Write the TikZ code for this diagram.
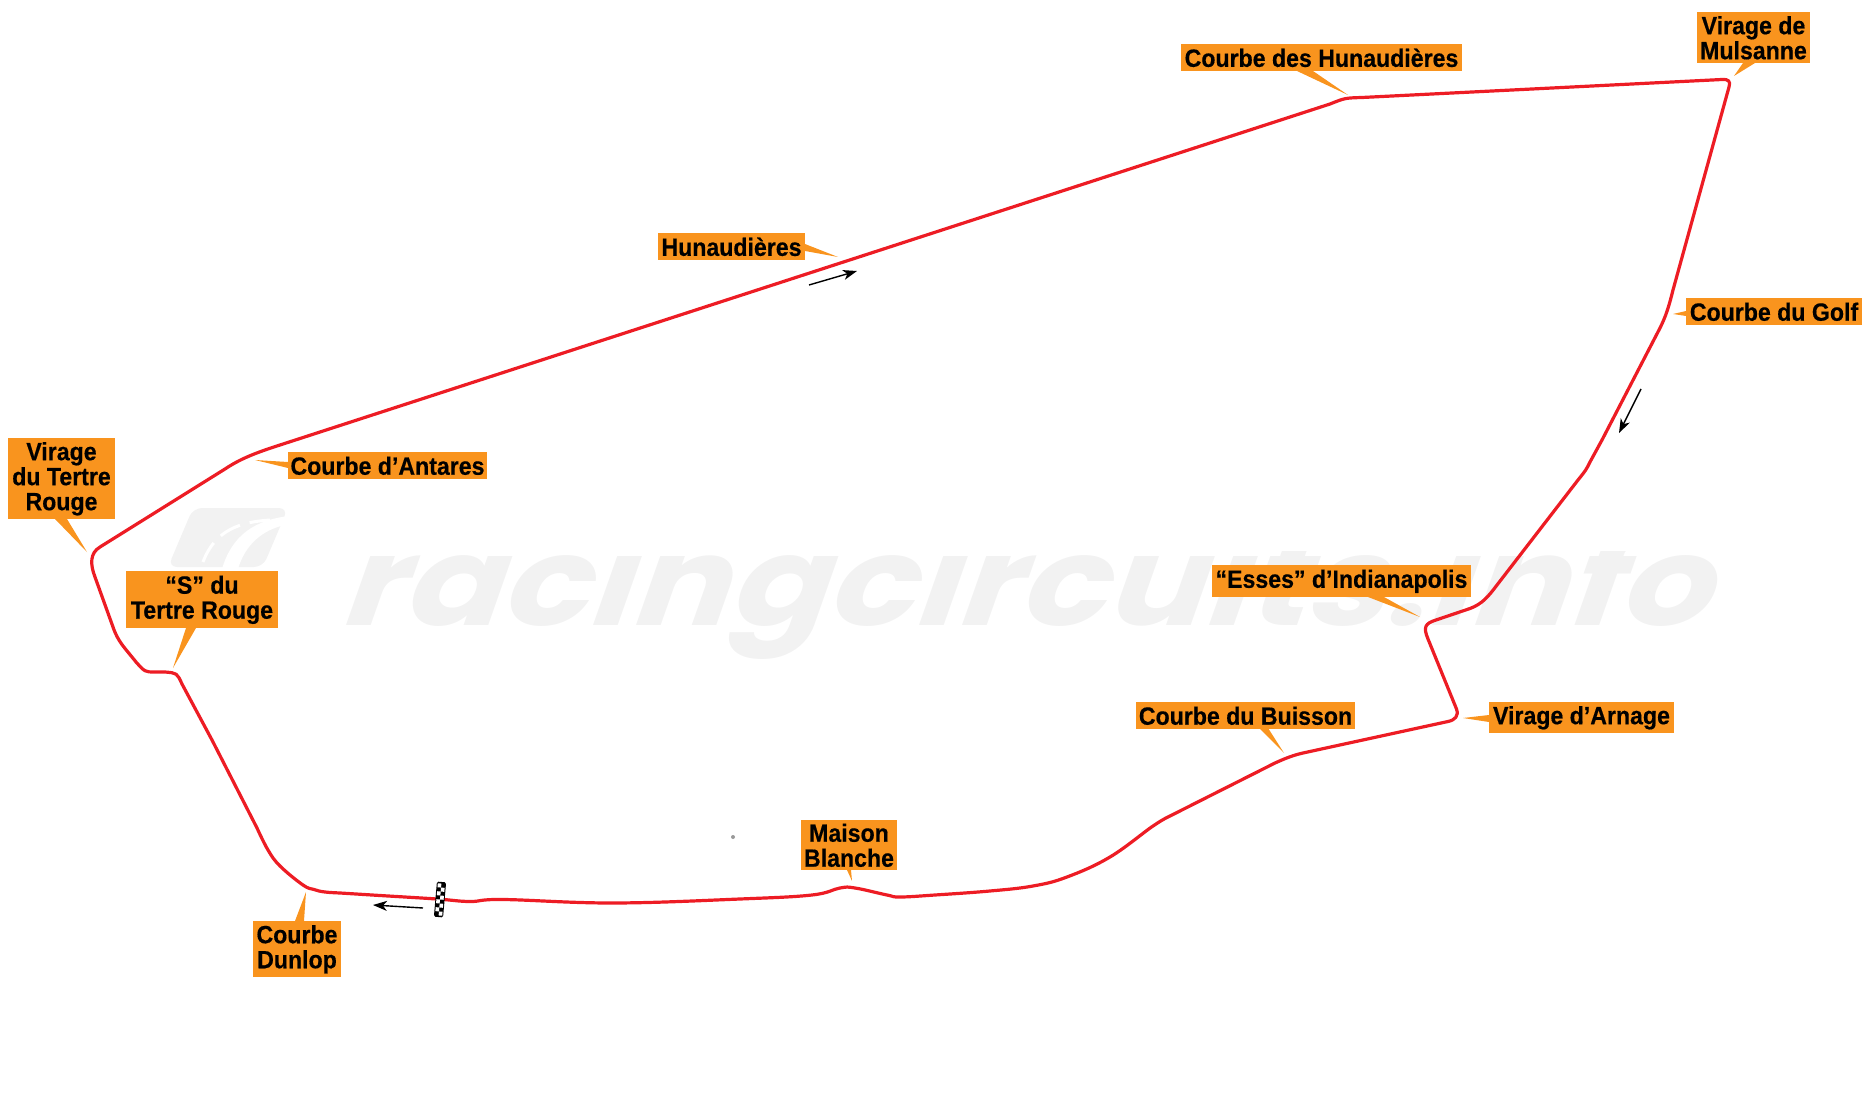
\documentclass[tikz,border=0pt]{standalone}
\usepackage{fontspec}
\setmainfont{Liberation Sans}[FakeStretch=0.925,FakeBold=0.4]
\newfontfamily\wmfont{Poppins}[FakeSlant=0.3]
\usetikzlibrary{arrows.meta}
\definecolor{labelorange}{HTML}{F9941E}
\definecolor{trackred}{HTML}{ED1C24}
\definecolor{wmgrey}{HTML}{F2F2F2}
\tikzset{
  lab/.style={inner sep=0pt,align=center,text=black,
    font=\fontsize{25}{25}\selectfont\bfseries},
  tailfill/.style={fill=labelorange},
  track/.style={draw=trackred,line width=3.2pt,line cap=round,line join=round},
  dirarrow/.style={draw=black,line width=1.4pt,-{Stealth[length=14pt,width=10pt,inset=4pt]}}
}
\newcommand\lab[6]{\fill[labelorange] (#2,#3) rectangle (#4,#5);
  \node[lab] (#1) at ({(#2+#4)/2},{(#3+#5)/2+0.3}) {#6};}
\newcommand\tailp[6]{\fill[tailfill] (#1,#2) -- (#5,#6) -- (#3,#4) -- cycle;}
\begin{document}
\begin{tikzpicture}[x=1pt,y=-1pt]
\useasboundingbox (0,0) rectangle (1875,1110);
% watermark
\fill[wmgrey,rounded corners=9pt] (193,508) -- (288,508) -- (263,567) -- (168,567) -- cycle;
\draw[white,line width=3pt,dash pattern=on 22pt off 10pt] (203,562) .. controls (215,530) and (240,522) .. (270,520);
\fill[white] (222,569) .. controls (232,535) and (255,520) .. (289,516) -- (285,525) .. controls (262,530) and (245,545) .. (238,569) -- cycle;
\begin{scope}
\clip (320,551) rectangle (1780,670);
\node[text=wmgrey,inner sep=0pt,anchor=base west] (wm) at (337,625)
  {\resizebox{1369pt}{99pt}{\wmfont\bfseries racingcircuits.info}};
\end{scope}
% track
\draw[track]
 (1722,79.5) .. controls (1728,79) and (1731,81) .. (1729,87)
 -- (1673,290) .. controls (1669,306) and (1666,316) .. (1660,328)
 -- (1602,440) -- (1590,462) .. controls (1586,470) .. (1578,480)
 -- (1497,585) .. controls (1488,597) and (1482,604) .. (1470,608.5)
 -- (1436,620) .. controls (1425,623.5) and (1423,627) .. (1428,639)
 -- (1456.5,709) .. controls (1459,716) and (1455,720) .. (1448,721.5)
 -- (1303,753) .. controls (1294,755) and (1286,758) .. (1275,763)
 -- (1170,816)
 -- plot[smooth,tension=0.65] coordinates {(1170,816) (1153,826) (1110,857) (1067,877) (1033,886) (990,891) (935,895) (900,897) (887,895) (855,888) (840,888) (812,895) (740,899) (613,903) (503,899.5) (470,901.5) (437,899) (380,895.5) (345,893.3) (325,892) (314,889.5) (303,885) (280,866) (268,850) (257,828)}
 -- (212,740) -- (182,684) .. controls (177,673) .. (165,672)
 -- (155,672) .. controls (145,672) .. (136,662)
 .. controls (125,648) and (118,642) .. (113,627)
 -- (95,577) .. controls (90,564) and (90,553) .. (100,547)
 -- (225,469) .. controls (240,459) and (255,453) .. (280,445)
 -- (1330,104) .. controls (1345,98) .. (1362,97.5)
 -- cycle;
% finish line
\begin{scope}[shift={(440,899.5)},rotate=-5]
 \fill[black,rounded corners=1.5pt] (-4.6,-17.6) rectangle (4.6,17.6);
 \foreach \r in {0,...,7}{
   \pgfmathtruncatemacro\c{mod(\r,2)}
   \fill[white] ({-3.6+3.6*\c},{-16+4*\r}) rectangle ++(3.6,4);
 }
\end{scope}
\fill[gray!80] (733,837) circle (2);
% direction arrows
\coordinate (a1s) at (423,908); \coordinate (a1e) at (373,905);
\coordinate (a2s) at (809,285); \coordinate (a2e) at (857,271);
\coordinate (a3s) at (1641,389); \coordinate (a3e) at (1619,433);
\draw[dirarrow] (a1s) -- (a1e);
\draw[dirarrow] (a2s) -- (a2e);
\draw[dirarrow] (a3s) -- (a3e);
% tails
\tailp{55}{519}{67}{519}{87}{552}
\tailp{288}{462}{288}{468}{255}{460}
\tailp{186}{628}{196}{628}{173}{668}
\tailp{295}{921}{304}{921}{306}{892}
\tailp{847}{870}{851}{870}{852}{881}
\tailp{1259}{728}{1268}{728}{1284}{753}
\tailp{1489}{715}{1489}{722}{1463}{718}
\tailp{1368}{597}{1384}{597}{1420}{617}
\tailp{1686}{311}{1686}{316}{1673}{314}
\tailp{1743}{63}{1755}{63}{1734}{76}
\tailp{1297}{71}{1313}{71}{1348}{95}
\tailp{805}{244}{805}{251}{838}{257}
% labels
\lab{tr}{8}{438}{115}{519}{Virage\\du Tertre\\Rouge}
\lab{an}{288}{452}{487}{479}{Courbe d’Antares}
\lab{st}{126}{571}{278}{628}{“S” du\\Tertre Rouge}
\lab{du}{253}{921}{341}{977}{Courbe\\Dunlop}
\lab{mb}{801}{820}{897}{870}{Maison\\Blanche}
\lab{bu}{1136}{702}{1355}{729}{Courbe du Buisson}
\lab{ar}{1489}{702}{1674}{733}{Virage d’Arnage}
\lab{es}{1212}{565}{1471}{597}{“Esses” d’Indianapolis}
\lab{go}{1686}{298}{1862}{325}{Courbe du Golf}
\lab{mu}{1697}{12}{1810}{63}{Virage de\\Mulsanne}
\lab{ch}{1181}{44}{1462}{71}{Courbe des Hunaudières}
\lab{hu}{658}{233}{805}{260}{Hunaudières}
\end{tikzpicture}
\end{document}
